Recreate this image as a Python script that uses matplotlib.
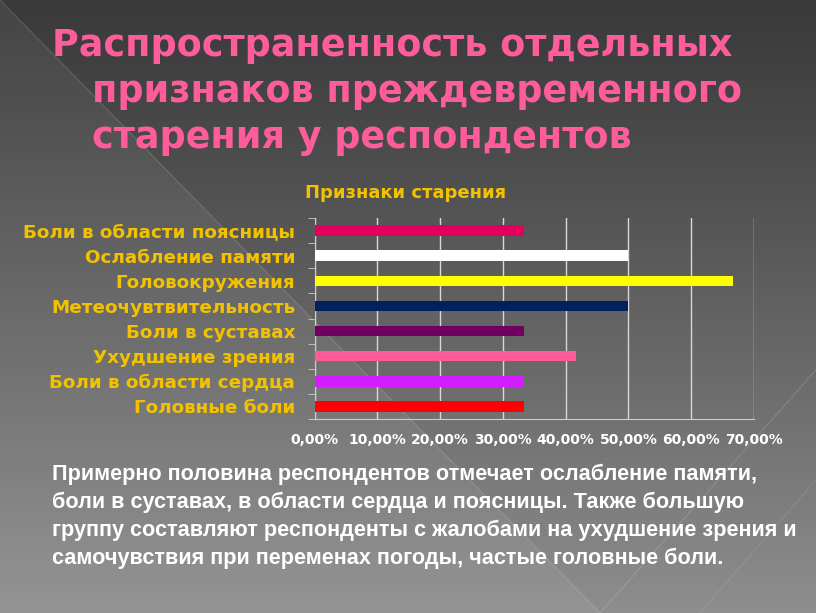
import numpy as np
import matplotlib.pyplot as plt
from matplotlib.patches import Polygon

# signs, from top to bottom as shown
labels = ["Боли в области поясницы", "Ослабление памяти", "Головокружения",
          "Метеочувтвительность", "Боли в суставах", "Ухудшение зрения",
          "Боли в области сердца", "Головные боли"]
values = [33.33, 50.0, 66.67, 50.0, 33.33, 41.67, 33.33, 33.33]
colors = ["#E2005C", "#FFFFFF", "#FFFF00", "#002060", "#700060",
          "#FF5A9A", "#D21EFF", "#FF0000"]
xticks = [0, 10, 20, 30, 40, 50, 60, 70]

title_lines = ["Распространенность отдельных",
               "признаков преждевременного",
               "старения у респондентов"]
note = ("Примерно половина респондентов отмечает ослабление памяти,\n"
        "боли в суставах, в области сердца и поясницы. Также большую\n"
        "группу составляют респонденты с жалобами на ухудшение зрения и\n"
        "самочувствия при переменах погоды, частые головные боли.")

W, H = 816, 613
fig = plt.figure(figsize=(W / 100, H / 100), dpi=100)

# background gradient
bg = fig.add_axes([0, 0, 1, 1])
grad = np.linspace(0, 1, 256).reshape(-1, 1)
top = np.array([0x3a, 0x3a, 0x3a]) / 255
bot = np.array([0x8e, 0x8e, 0x8e]) / 255
img = top + (bot - top) * grad[..., None] ** 1.1
bg.imshow(img, extent=[0, W, H, 0], aspect="auto")
bg.add_patch(Polygon([[0, 0], [0, H], [600, H]], closed=True,
                     facecolor="white", alpha=0.06, edgecolor="none"))
bg.plot([0, 600], [0, H], color="white", alpha=0.12, lw=1)
bg.plot([816, 600], [370, 613], color="white", alpha=0.12, lw=1)
bg.plot([816, 700], [480, 613], color="white", alpha=0.08, lw=1)
bg.set_xlim(0, W)
bg.set_ylim(H, 0)
bg.axis("off")

pink = "#FF5C9C"
ys = [45, 92, 137]
xs = [52, 92, 92]
for t, x, y in zip(title_lines, xs, ys):
    fig.text(x / W, 1 - y / H, t, color=pink, fontsize=26.3, fontweight="bold",
             va="center", ha="left", family="DejaVu Sans")

# bar chart
ax = fig.add_axes([314.5 / W, 1 - 419 / H, (754 - 314.5) / W, (419 - 218) / H])
ax.patch.set_alpha(0)
pos = np.arange(len(labels))
ax.barh(pos, values, height=0.42, color=colors, zorder=3)
ax.set_ylim(len(labels) - 0.5, -0.5)
ax.set_xlim(0, 70)
ax.set_xticks(xticks)
ax.set_xticklabels([f"{v:.2f}%".replace(".", ",") for v in xticks],
                   color="white", fontsize=10, fontweight="bold")
ax.set_yticks(pos)
ax.set_yticklabels(labels, color="#F2C200", fontsize=13.2, fontweight="bold")
ax.set_yticks(np.arange(-0.5, len(labels), 1), minor=True)
ax.tick_params(axis="y", which="major", length=0, pad=14)
ax.tick_params(axis="y", which="minor", length=5, color="#cccccc", direction="out")
ax.tick_params(axis="x", length=0, pad=10)
ax.grid(axis="x", color="#d8d8d8", lw=1, zorder=1)
for s in ["top", "right"]:
    ax.spines[s].set_visible(False)
ax.spines["left"].set_color("#cccccc")
ax.spines["bottom"].set_color("#cccccc")

fig.text(305 / W, 1 - 193 / H, "Признаки старения", color="#F2C200",
         fontsize=13, fontweight="bold", va="center", ha="left")

fig.text(52 / W, 1 - 464 / H, note, color="white", fontsize=15.6,
         fontweight="bold", va="top", ha="left", linespacing=1.4,
         family=["Liberation Sans", "DejaVu Sans"])

fig.savefig("out.png", dpi=100)
